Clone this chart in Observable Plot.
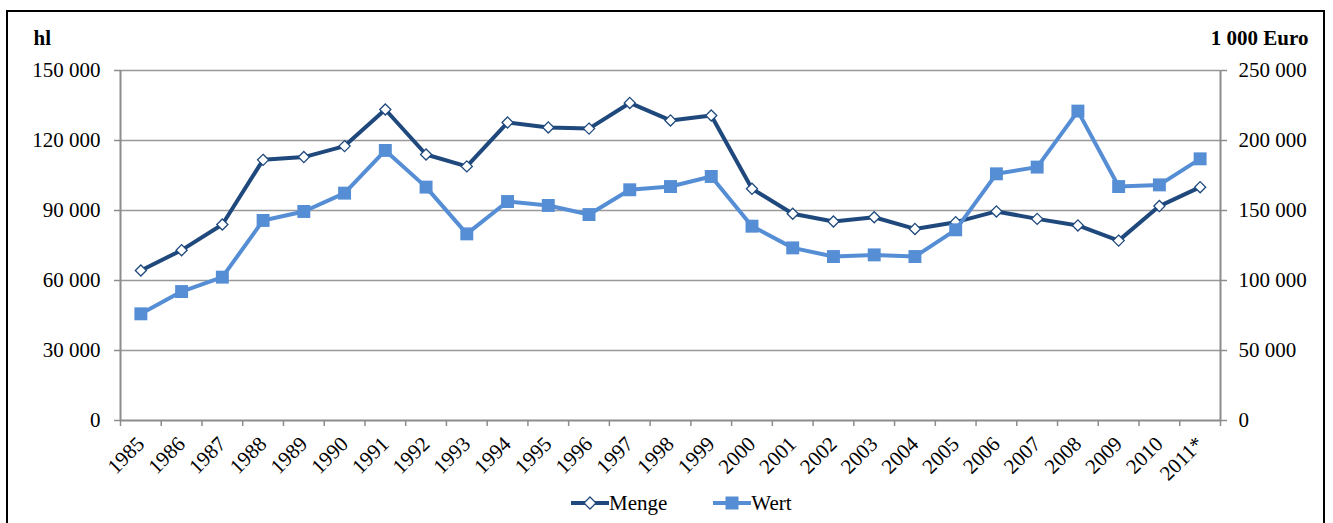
<!DOCTYPE html>
<html>
<head>
<meta charset="utf-8">
<script src="https://cdn.jsdelivr.net/npm/d3@7"></script>
<script src="https://cdn.jsdelivr.net/npm/@observablehq/plot@0.6"></script>
<style>
  html, body { margin:0; padding:0; background:#fff; overflow:hidden; }
  #frame { position:absolute; left:6px; top:10px; width:1319px; height:540px; border:2px solid #000; box-sizing:border-box; }
  #chart { position:absolute; left:0; top:0; }
  #legend { position:absolute; left:571px; top:490px; height:26px; display:flex; align-items:center;
            font-family:"Liberation Serif", serif; font-size:21px; color:#000; }
  #legend .item { display:flex; align-items:center; }
  #legend svg { display:block; }
</style>
</head>
<body>
<div id="frame"></div>
<div id="chart"></div>
<div id="legend"></div>
<script>
const years = ["1985","1986","1987","1988","1989","1990","1991","1992","1993","1994","1995","1996","1997","1998","1999","2000","2001","2002","2003","2004","2005","2006","2007","2008","2009","2010","2011*"];
const menge = [64300,73000,84000,111700,112900,117600,133300,114000,108900,127700,125600,125100,136100,128600,130700,99300,88600,85300,87100,82100,85000,89600,86400,83600,77100,91900,100000];
const wert = [76200,92100,102400,142900,149300,162400,192900,166700,133300,156400,153600,147100,164800,167100,174300,138800,123300,117100,118300,117100,136200,176200,181000,221000,167100,168300,186900];
const leftTicks = [0,30000,60000,90000,120000,150000];
const rightTicks = [0,50000,100000,150000,200000,250000];
const seriesNames = ["Menge","Wert"];
const colors = ["#1F497D","#558ED5"];

const ratio = 150000/250000;
const fmt = d3.formatLocale({thousands:"\u00a0", grouping:[3], decimal:","}).format(",");
const idx = years.map((_, i) => i);
const bounds = d3.range(years.length + 1).map(i => i - 0.5);
const mengeData = idx.map(i => ({i, v: menge[i]}));
const wertData = idx.map(i => ({i, v: wert[i] * ratio}));
const font = "Liberation Serif, serif";

const plot = Plot.plot({
  width: 1333,
  height: 480,
  marginLeft: 120,
  marginRight: 113,
  marginTop: 70,
  marginBottom: 60,
  style: {fontFamily: font, fontSize: "21px", background: "transparent", overflow: "visible"},
  x: {type: "linear", domain: [-0.5, years.length - 0.5], axis: null},
  y: {domain: [0, 150000], axis: null},
  marks: [
    Plot.ruleY(leftTicks.filter(d => d > 0), {stroke: "#999", strokeWidth: 1.5}),
    Plot.ruleX([-0.5, years.length - 0.5], {stroke: "#8c8c8c", strokeWidth: 2}),
    Plot.ruleY([0], {stroke: "#8c8c8c", strokeWidth: 2}),
    Plot.axisY({anchor: "left", ticks: leftTicks, tickFormat: fmt, tickSize: 6, tickPadding: 14,
      stroke: "#8c8c8c", strokeWidth: 1.5, fill: "#000", fontSize: 21, label: null}),
    Plot.axisY({anchor: "right", ticks: rightTicks.map(d => d * ratio), tickFormat: d => fmt(Math.round(d / ratio)),
      tickSize: 6, tickPadding: 12, stroke: "#8c8c8c", strokeWidth: 1.5, fill: "#000", fontSize: 21, label: null}),
    Plot.axisX({anchor: "bottom", ticks: bounds, tickFormat: () => "", tickSize: 6,
      stroke: "#8c8c8c", strokeWidth: 1.5, label: null}),
    Plot.axisX({anchor: "bottom", ticks: idx, tickFormat: i => years[i], tickSize: 0, tickPadding: 20,
      tickRotate: -45, fill: "#000", fontSize: 21, label: null}),
    Plot.line(mengeData, {x: "i", y: "v", stroke: colors[0], strokeWidth: 4}),
    Plot.dot(mengeData, {x: "i", y: "v", symbol: "diamond2", r: 5, fill: "#fff", stroke: colors[0], strokeWidth: 1.3}),
    Plot.line(wertData, {x: "i", y: "v", stroke: colors[1], strokeWidth: 4}),
    Plot.dot(wertData, {x: "i", y: "v", symbol: "square", r: 7.3, fill: colors[1], stroke: "none"}),
    Plot.text(["hl"], {frameAnchor: "top-left", lineAnchor: "middle", dx: -87, dy: -32, textAnchor: "start", fontWeight: "bold", fontSize: 21, fill: "#000"}),
    Plot.text(["1 000 Euro"], {frameAnchor: "top-right", lineAnchor: "middle", dx: 88, dy: -32, textAnchor: "end", fontWeight: "bold", fontSize: 21, fill: "#000"})
  ]
});
document.getElementById("chart").appendChild(plot);

// Legend
const legend = document.getElementById("legend");
seriesNames.forEach((name, k) => {
  const item = document.createElement("div");
  item.className = "item";
  item.style.marginRight = k === 0 ? "46px" : "0";
  const w = 38;
  const sym = k === 0
    ? `<path d="M${w/2},7 L${w/2+6},13 L${w/2},19 L${w/2-6},13 Z" fill="#fff" stroke="${colors[0]}" stroke-width="1.3"/>`
    : `<rect x="${w/2-6.5}" y="6.5" width="13" height="13" fill="${colors[1]}"/>`;
  item.innerHTML = `<svg width="${w}" height="26"><line x1="0" x2="${w}" y1="13" y2="13" stroke="${colors[k]}" stroke-width="4"/>${sym}</svg><span>${name}</span>`;
  legend.appendChild(item);
});
</script>
</body>
</html>
